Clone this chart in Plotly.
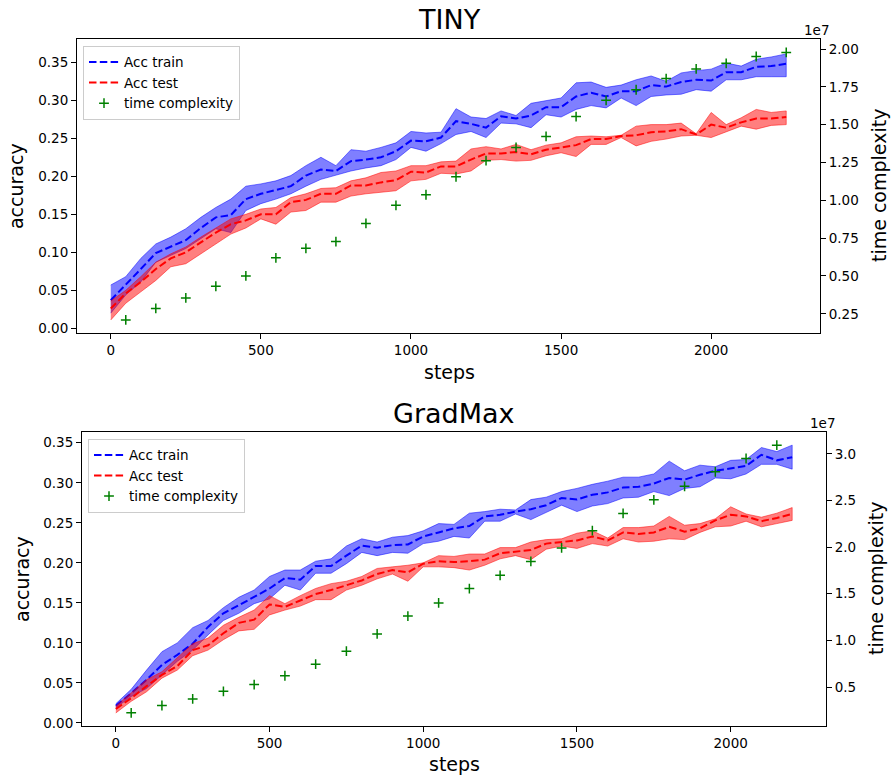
import plotly.graph_objects as go

# ---------------- data ----------------
steps_tiny = list(range(0, 2251, 50))
train_mean_tiny = [0.037, 0.057, 0.078, 0.099, 0.107, 0.116, 0.132, 0.146, 0.149, 0.170, 0.177, 0.182,
                   0.187, 0.201, 0.209, 0.207, 0.220, 0.222, 0.225, 0.233, 0.247, 0.246, 0.251,
                   0.2725, 0.269, 0.264, 0.279, 0.276, 0.280, 0.291, 0.291, 0.305, 0.310, 0.305, 0.312,
                   0.312, 0.320, 0.318, 0.324, 0.327, 0.326, 0.337, 0.337, 0.344, 0.345, 0.348]
train_hi_tiny = [0.057, 0.068, 0.092, 0.111, 0.120, 0.131, 0.146, 0.159, 0.170, 0.187, 0.190, 0.194,
                 0.201, 0.214, 0.225, 0.214, 0.235, 0.233, 0.238, 0.244, 0.259, 0.257, 0.258,
                 0.289, 0.278, 0.276, 0.286, 0.280, 0.296, 0.300, 0.303, 0.323, 0.324, 0.317, 0.320,
                 0.327, 0.332, 0.325, 0.336, 0.339, 0.341, 0.349, 0.345, 0.354, 0.357, 0.361]
train_lo_tiny = [0.020, 0.044, 0.061, 0.087, 0.096, 0.105, 0.118, 0.131, 0.126, 0.155, 0.164, 0.170,
                 0.177, 0.187, 0.196, 0.201, 0.207, 0.211, 0.214, 0.222, 0.238, 0.233, 0.243,
                 0.255, 0.259, 0.251, 0.270, 0.269, 0.264, 0.281, 0.278, 0.288, 0.293, 0.290, 0.303,
                 0.293, 0.305, 0.307, 0.308, 0.314, 0.312, 0.327, 0.327, 0.331, 0.331, 0.331]
test_mean_tiny = [0.026, 0.046, 0.061, 0.078, 0.092, 0.100, 0.113, 0.126, 0.137, 0.142, 0.150, 0.150,
                  0.166, 0.169, 0.177, 0.177, 0.188, 0.188, 0.192, 0.195, 0.206, 0.205, 0.213,
                  0.213, 0.222, 0.230, 0.230, 0.232, 0.229, 0.235, 0.238, 0.241, 0.249, 0.249, 0.253,
                  0.254, 0.258, 0.259, 0.262, 0.255, 0.268, 0.264, 0.271, 0.276, 0.276, 0.278]
test_hi_tiny = [0.036, 0.050, 0.068, 0.087, 0.098, 0.107, 0.120, 0.132, 0.144, 0.150, 0.157, 0.159,
                0.172, 0.177, 0.184, 0.185, 0.194, 0.198, 0.205, 0.207, 0.214, 0.214, 0.219,
                0.220, 0.236, 0.239, 0.236, 0.242, 0.235, 0.241, 0.244, 0.252, 0.253, 0.252, 0.254,
                0.266, 0.268, 0.268, 0.270, 0.256, 0.284, 0.268, 0.277, 0.288, 0.284, 0.286]
test_lo_tiny = [0.011, 0.033, 0.048, 0.063, 0.081, 0.085, 0.097, 0.111, 0.124, 0.132, 0.144, 0.137,
                0.153, 0.155, 0.166, 0.166, 0.174, 0.177, 0.179, 0.181, 0.194, 0.196, 0.204,
                0.203, 0.207, 0.221, 0.222, 0.220, 0.221, 0.227, 0.231, 0.226, 0.242, 0.242, 0.251,
                0.240, 0.246, 0.249, 0.253, 0.254, 0.251, 0.259, 0.266, 0.262, 0.267, 0.268]
time_steps_tiny = list(range(50, 2251, 100))
time_tiny_1e7 = [0.209, 0.285, 0.355, 0.432, 0.500, 0.620, 0.683, 0.727, 0.847, 0.967, 1.037, 1.156,
                 1.2625, 1.350, 1.4225, 1.554, 1.661, 1.731, 1.805, 1.869, 1.906, 1.951, 1.978]

steps_gm = list(range(0, 2201, 50))
train_mean_gm = [0.0216, 0.037, 0.054, 0.0725, 0.085, 0.099, 0.120, 0.137, 0.147, 0.157, 0.168, 0.181,
                 0.179, 0.196, 0.196, 0.209, 0.2215, 0.219, 0.222, 0.223, 0.233, 0.238,
                 0.243, 0.246, 0.258, 0.260, 0.264, 0.267, 0.272, 0.281, 0.279, 0.285, 0.288, 0.294,
                 0.295, 0.299, 0.306, 0.304, 0.310, 0.315, 0.318, 0.321, 0.335, 0.328, 0.332]
train_hi_gm = [0.024, 0.042, 0.066, 0.089, 0.100, 0.119, 0.128, 0.144, 0.157, 0.166, 0.183, 0.191,
               0.191, 0.202, 0.205, 0.221, 0.230, 0.226, 0.232, 0.234, 0.240, 0.249,
               0.248, 0.262, 0.264, 0.267, 0.266, 0.279, 0.282, 0.289, 0.293, 0.298, 0.302, 0.307,
               0.307, 0.311, 0.327, 0.315, 0.322, 0.320, 0.328, 0.329, 0.344, 0.339, 0.347]
train_lo_gm = [0.019, 0.033, 0.043, 0.060, 0.077, 0.091, 0.110, 0.128, 0.137, 0.149, 0.155, 0.172,
               0.166, 0.187, 0.187, 0.199, 0.213, 0.209, 0.213, 0.212, 0.224, 0.227,
               0.233, 0.231, 0.252, 0.252, 0.261, 0.254, 0.263, 0.272, 0.264, 0.271, 0.274, 0.281,
               0.282, 0.289, 0.284, 0.293, 0.295, 0.306, 0.305, 0.311, 0.323, 0.323, 0.317]
test_mean_gm = [0.0175, 0.031, 0.046, 0.060, 0.071, 0.091, 0.097, 0.112, 0.125, 0.129, 0.148, 0.145,
                0.153, 0.161, 0.166, 0.172, 0.178, 0.186, 0.191, 0.188, 0.199, 0.202,
                0.201, 0.202, 0.204, 0.212, 0.214, 0.216, 0.224, 0.226, 0.228, 0.233, 0.228, 0.238,
                0.236, 0.238, 0.245, 0.239, 0.243, 0.253, 0.260, 0.258, 0.252, 0.256, 0.261]
test_hi_gm = [0.021, 0.037, 0.054, 0.064, 0.081, 0.099, 0.106, 0.122, 0.132, 0.141, 0.159, 0.149,
              0.159, 0.168, 0.174, 0.177, 0.183, 0.193, 0.195, 0.197, 0.200, 0.209,
              0.208, 0.211, 0.211, 0.219, 0.219, 0.226, 0.229, 0.230, 0.237, 0.240, 0.231, 0.244,
              0.244, 0.246, 0.258, 0.247, 0.249, 0.255, 0.270, 0.261, 0.257, 0.262, 0.269]
test_lo_gm = [0.0125, 0.027, 0.039, 0.056, 0.066, 0.084, 0.091, 0.104, 0.115, 0.117, 0.135, 0.141,
              0.146, 0.154, 0.154, 0.166, 0.172, 0.180, 0.186, 0.177, 0.195, 0.195,
              0.194, 0.191, 0.197, 0.205, 0.209, 0.204, 0.217, 0.221, 0.218, 0.224, 0.221, 0.230,
              0.226, 0.227, 0.230, 0.229, 0.238, 0.245, 0.246, 0.252, 0.245, 0.249, 0.253]
time_steps_gm = list(range(50, 2151, 100))
time_gm_1e7 = [0.223, 0.302, 0.372, 0.454, 0.526, 0.621, 0.745, 0.884, 1.069, 1.261, 1.402, 1.555,
               1.697, 1.846, 1.991, 2.176, 2.361, 2.507, 2.652, 2.808, 2.950, 3.093]

titles = ["TINY", "GradMax"]

# ---------------- figure ----------------
FONT = "DejaVu Sans"
W, H = 891, 778
fig = go.Figure()

BLUE_FILL = "rgba(0,0,255,0.5)"
RED_FILL = "rgba(255,0,0,0.5)"
DASH = "7.5px,3.3px"


def add_panel(steps, tr_m, tr_hi, tr_lo, te_m, te_hi, te_lo, tsteps, tvals, xa, ya, ya2, legend):
    fig.add_trace(go.Scatter(x=steps + steps[::-1], y=tr_hi + tr_lo[::-1], fill="toself",
                             fillcolor=BLUE_FILL, line=dict(color=BLUE_FILL, width=1),
                             mode="lines", showlegend=False, hoverinfo="skip",
                             xaxis=xa, yaxis=ya))
    fig.add_trace(go.Scatter(x=steps, y=tr_m, mode="lines", name="Acc train",
                             line=dict(color="blue", width=2, dash=DASH),
                             xaxis=xa, yaxis=ya, legend=legend))
    fig.add_trace(go.Scatter(x=steps + steps[::-1], y=te_hi + te_lo[::-1], fill="toself",
                             fillcolor=RED_FILL, line=dict(color=RED_FILL, width=1),
                             mode="lines", showlegend=False, hoverinfo="skip",
                             xaxis=xa, yaxis=ya))
    fig.add_trace(go.Scatter(x=steps, y=te_m, mode="lines", name="Acc test",
                             line=dict(color="red", width=2, dash=DASH),
                             xaxis=xa, yaxis=ya, legend=legend))
    fig.add_trace(go.Scatter(x=tsteps, y=tvals, mode="markers", name="time complexity",
                             marker=dict(symbol="cross-thin", size=7, color="green",
                                         line=dict(color="green", width=1.5)),
                             xaxis=xa, yaxis=ya2, legend=legend))


add_panel(steps_tiny, train_mean_tiny, train_hi_tiny, train_lo_tiny,
          test_mean_tiny, test_hi_tiny, test_lo_tiny, time_steps_tiny, time_tiny_1e7,
          "x", "y", "y2", "legend")
add_panel(steps_gm, train_mean_gm, train_hi_gm, train_lo_gm,
          test_mean_gm, test_hi_gm, test_lo_gm, time_steps_gm, time_gm_1e7,
          "x2", "y3", "y4", "legend2")

tickfont = dict(family=FONT, size=13.5, color="black")
common = dict(showgrid=False, zeroline=False, showline=True, linecolor="black", linewidth=1,
              ticks="outside", ticklen=5, tickcolor="black", tickfont=tickfont)

top_x = [77 / W, 820 / W]
top_y = [1 - 335 / H, 1 - 39.3 / H]
bot_x = [82 / W, 826 / W]
bot_y = [1 - 730 / H, 1 - 434 / H]

fig.update_layout(
    width=W, height=H, margin=dict(l=0, r=0, t=0, b=0),
    paper_bgcolor="white", plot_bgcolor="white",
    font=dict(family=FONT, color="black"),
    xaxis=dict(domain=top_x, anchor="y", range=[-112.5, 2362.5], tickvals=[0, 500, 1000, 1500, 2000],
               mirror=True, **common),
    yaxis=dict(domain=top_y, anchor="x", range=[-0.0065, 0.3805], dtick=0.05, tickformat=".2f", **common),
    yaxis2=dict(overlaying="y", side="right", anchor="x", range=[0.121, 2.066], dtick=0.25,
                tickformat=".2f", **common),
    xaxis2=dict(domain=bot_x, anchor="y3", range=[-110, 2310], tickvals=[0, 500, 1000, 1500, 2000],
                mirror=True, **common),
    yaxis3=dict(domain=bot_y, anchor="x2", range=[-0.0041, 0.3637], dtick=0.05, tickformat=".2f", **common),
    yaxis4=dict(overlaying="y3", side="right", anchor="x2", range=[0.0795, 3.2365], dtick=0.5,
                tickformat=".1f", **common),
    legend=dict(x=83 / W, y=1 - 46 / H, xanchor="left", yanchor="top",
                bordercolor="#cccccc", borderwidth=1, bgcolor="rgba(255,255,255,0.8)",
                font=dict(family=FONT, size=13.5, color="black"), itemwidth=30,
                tracegroupgap=0),
    legend2=dict(x=88 / W, y=1 - 441 / H, xanchor="left", yanchor="top",
                 bordercolor="#cccccc", borderwidth=1, bgcolor="rgba(255,255,255,0.8)",
                 font=dict(family=FONT, size=13.5, color="black"), itemwidth=30,
                 tracegroupgap=0),
)


def ann(text, x, y, size, angle=0, xanchor="center"):
    fig.add_annotation(text=text, x=x / W, y=1 - y / H, xref="paper", yref="paper",
                       showarrow=False, textangle=angle, xanchor=xanchor, yanchor="middle",
                       font=dict(family=FONT, size=size, color="black"))


ann(titles[0], 449, 20, 27)
ann("steps", 449, 374, 19)
ann("accuracy", 16, 187, 19, -90)
ann("time complexity", 879, 187, 19, -90)
ann("1e7", 831, 30, 13.5, xanchor="right")

ann(titles[1], 454, 416, 27)
ann("steps", 454, 768, 19)
ann("accuracy", 22, 582, 19, -90)
ann("time complexity", 876, 582, 19, -90)
ann("1e7", 837, 425, 13.5, xanchor="right")

fig.write_html("out.html", config={"displayModeBar": False},
               post_script="document.body.style.margin='0';document.body.style.overflow='hidden';")
